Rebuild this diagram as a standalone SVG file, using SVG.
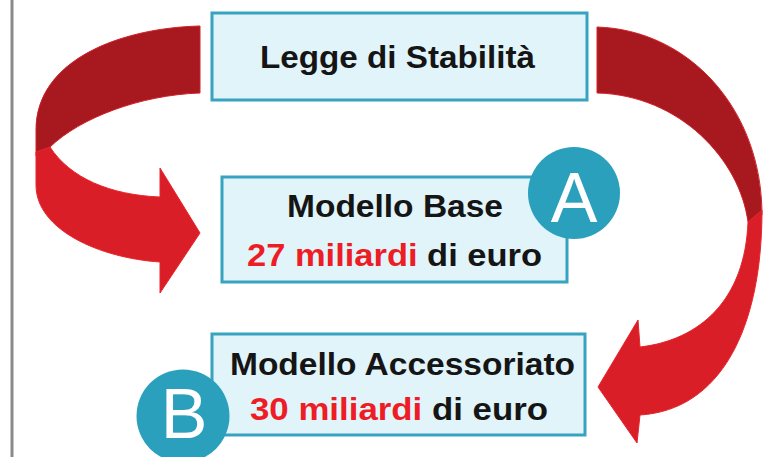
<svg xmlns="http://www.w3.org/2000/svg" width="766" height="457" viewBox="0 0 766 457">
<style>
.box{fill:#e0f4f9;stroke:#37a3c0;stroke-width:3}
.t{font-family:"Liberation Sans",Arial,sans-serif;font-weight:bold;font-size:31px;fill:#151515}
.r{fill:#ee1c25}
.dark{fill:#a8181f;stroke:#d3222a;stroke-width:1}
.bright{fill:#d91e27;stroke:#e8252c;stroke-width:1}
.badge{fill:#2ba0bd}
.bl{font-family:"Liberation Sans",Arial,sans-serif;font-size:70px;fill:#ffffff;text-anchor:middle}
</style>
<rect x="10.5" y="0" width="3" height="457" fill="#8a8a8a"/>
<g id="connectors">
  <path class="dark" d="M200,26 C120,28 36,60 36,130 L36,156 L50,147 C80,118 140,95 200,93 Z"/>
  <path class="bright" d="M50,147 L36,152 L36,185 C36,230 100,258 160,262 L160,293 L200,233 L160,168 L160,197 C110,195 70,178 50,147 Z"/>
  <path class="dark" d="M597,27 C690,30 762,110 762,215 L748,222 C740,160 680,95 597,93 Z"/>
  <path class="bright" d="M762,210 C762,330 720,410 640,415 L637,443 L598,387 L638,320 L640,347 C700,340 745,300 748,222 Z"/>
</g>
<g id="legge">
  <rect class="box" x="212" y="13" width="375" height="87"/>
  <text class="t" x="260" y="68" font-size="28" textLength="275" lengthAdjust="spacingAndGlyphs">Legge di Stabilità</text>
</g>
<g id="base">
  <rect class="box" x="222" y="177" width="345" height="105"/>
  <text class="t" x="287" y="217" textLength="216" lengthAdjust="spacingAndGlyphs">Modello Base</text>
  <text class="t" x="247" y="266" textLength="295" lengthAdjust="spacingAndGlyphs"><tspan class="r">27 miliardi</tspan> di euro</text>
</g>
<g id="badgeA">
  <circle class="badge" cx="574" cy="193" r="46"/>
  <text class="bl" x="574" y="222">A</text>
</g>
<g id="accessoriato">
  <rect class="box" x="212" y="334" width="373" height="101"/>
  <text class="t" x="230" y="375" textLength="345" lengthAdjust="spacingAndGlyphs">Modello Accessoriato</text>
  <text class="t" x="250" y="420" textLength="298" lengthAdjust="spacingAndGlyphs"><tspan class="r">30 miliardi</tspan> di euro</text>
</g>
<g id="badgeB">
  <circle class="badge" cx="183" cy="416" r="46.5"/>
  <text class="bl" x="184" y="438">B</text>
</g>
</svg>
